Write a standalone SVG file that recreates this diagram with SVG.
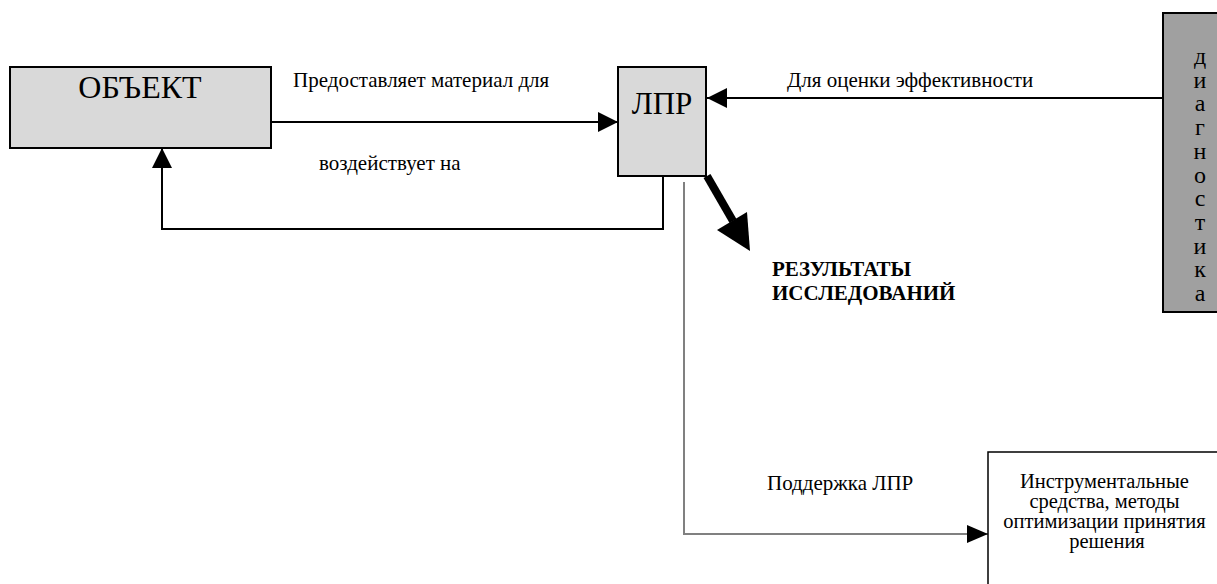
<svg xmlns="http://www.w3.org/2000/svg" width="1217" height="584" viewBox="0 0 1217 584">
<defs>
<style>
.t{font-family:'Liberation Serif','Times New Roman',serif;fill:#000}
.box{stroke:#000;stroke-width:2}
.lbl{font-size:21px}
.ln{fill:none;stroke:#000;stroke-width:2}
</style>
<marker id="ah" markerWidth="20" markerHeight="20" refX="20" refY="10" orient="auto" markerUnits="userSpaceOnUse">
<path d="M0,0 L20,10 L0,20 Z" fill="#000"/>
</marker>
</defs>
<rect width="1217" height="584" fill="#fff"/>
<g id="connectors">
<line class="ln" x1="272" y1="122" x2="618" y2="122" marker-end="url(#ah)"/>
<line class="ln" x1="1163" y1="98" x2="707" y2="98" marker-end="url(#ah)"/>
<polyline class="ln" points="663,176 663,229 162,229 162,148" marker-end="url(#ah)"/>
<polyline fill="none" stroke="#808080" stroke-width="2" points="684,182 684,534 988,534"/>
<path d="M967,525 L988,534 L967,543 Z" fill="#000"/>
<line x1="707" y1="176" x2="733" y2="221" stroke="#000" stroke-width="8"/>
<path d="M717,230 L747,212 L750,251 Z" fill="#000"/>
</g>
<g id="label-provide"><text class="t lbl" x="293" y="87">Предоставляет материал для</text></g>
<g id="label-affects"><text class="t lbl" x="319" y="170">воздействует на</text></g>
<g id="label-eval"><text class="t lbl" x="787" y="87">Для оценки эффективности</text></g>
<g id="label-support"><text class="t lbl" x="767" y="490">Поддержка ЛПР</text></g>
<g id="node-object">
<rect class="box" x="10" y="67" width="261" height="81" fill="#d9d9d9"/>
<text class="t" x="140" y="98" font-size="32" text-anchor="middle">ОБЪЕКТ</text>
</g>
<g id="node-lpr">
<rect class="box" x="618" y="67" width="88" height="109" fill="#d9d9d9"/>
<text class="t" x="662" y="114" font-size="31" text-anchor="middle">ЛПР</text>
</g>
<g id="node-diag">
<rect class="box" x="1163" y="13" width="60" height="299" fill="#a0a0a0"/>
<text class="t" font-size="24" text-anchor="middle">
<tspan x="1200" y="64">д</tspan><tspan x="1200" y="87.7">и</tspan><tspan x="1200" y="111.4">а</tspan><tspan x="1200" y="135.1">г</tspan><tspan x="1200" y="158.8">н</tspan><tspan x="1200" y="182.5">о</tspan><tspan x="1200" y="206.2">с</tspan><tspan x="1200" y="229.9">т</tspan><tspan x="1200" y="253.6">и</tspan><tspan x="1200" y="277.3">к</tspan><tspan x="1200" y="301">а</tspan>
</text>
</g>
<g id="node-results">
<text class="t" font-size="21" font-weight="bold" x="772" y="276">РЕЗУЛЬТАТЫ</text>
<text class="t" font-size="21" font-weight="bold" x="772" y="300">ИССЛЕДОВАНИЙ</text>
</g>
<g id="node-tools">
<rect x="988" y="452" width="240" height="140" fill="#fff" stroke="#000" stroke-width="1.5"/>
<text class="t" font-size="20.5" text-anchor="middle">
<tspan x="1107" y="488">Инструментальные</tspan>
<tspan x="1107" y="508">средства, методы</tspan>
<tspan x="1107" y="528">оптимизации принятия</tspan>
<tspan x="1107" y="548">решения</tspan>
</text>
</g>
</svg>
